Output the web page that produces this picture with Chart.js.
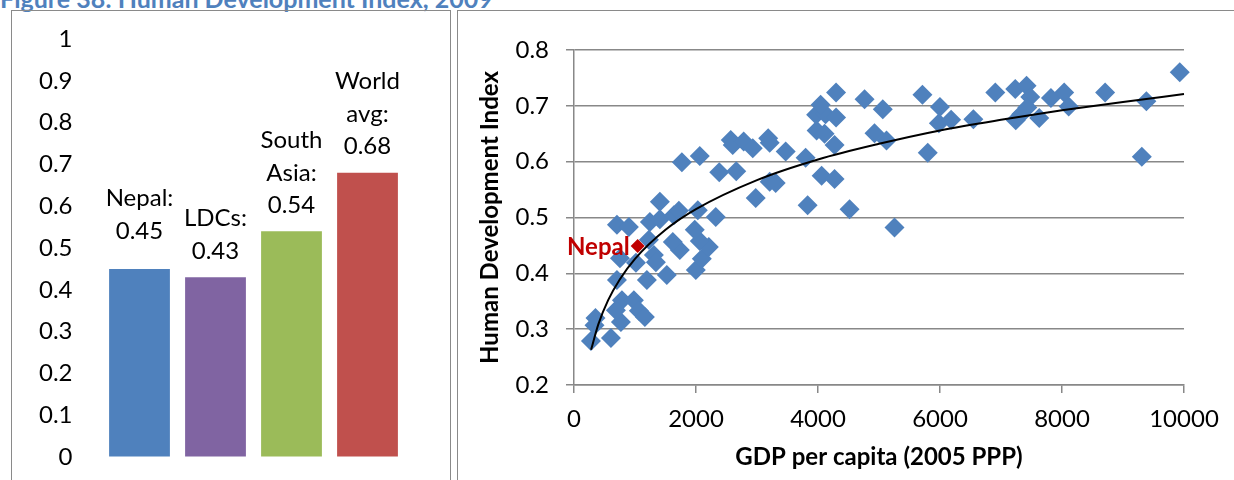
<!DOCTYPE html>
<html><head><meta charset="utf-8">
<script src="https://cdn.jsdelivr.net/npm/chart.js@4/dist/chart.umd.min.js"></script>
<style>
html,body{margin:0;padding:0;background:#fff;overflow:hidden;width:1234px;height:480px;}
#title{position:absolute;left:0;top:-14px;font:bold 25px Lato;color:#4f81bd;white-space:nowrap;line-height:1;}
.panel{position:absolute;border:1px solid #8a8a8a;box-sizing:border-box;}
#p1{left:11px;top:10px;width:440px;height:490px;}
#p2{left:457px;top:10px;width:800px;height:490px;}
canvas{position:absolute;}
</style></head><body>
<div id="title">Figure 38: Human Development Index, 2009</div>
<div class="panel" id="p1"></div>
<div class="panel" id="p2"></div>
<canvas id="c1" width="437" height="469" style="left:12px;top:11px"></canvas>
<canvas id="c2" width="776" height="469" style="left:458px;top:11px"></canvas>
<script>
// ---- Bar chart data ----
const barCategories = [["Nepal:"], ["LDCs:"], ["South", "Asia:"], ["World", "avg:"]];
const barValues = [0.45, 0.43, 0.54, 0.68];
const barColors = ["#4f81bd", "#8064a2", "#9bbb59", "#c0504d"];
const barTickLabels = ["0", "0.1", "0.2", "0.3", "0.4", "0.5", "0.6", "0.7", "0.8", "0.9", "1"];

// ---- Scatter data (GDP per capita 2005 PPP, HDI) ----
const countryGDP = [278, 606, 352, 336, 704, 786, 982, 1064, 1162, 769, 687, 1195, 1522, 1997, 2095, 753, 1015, 1309, 1735, 2210,
  1342, 2062, 1620, 1228, 1980, 704, 900, 1244, 1408, 1637, 1408, 1719, 2030, 2324, 1768, 2062, 2381, 2660, 2570, 2602,
  2782, 2930, 2979, 3183, 3208, 3470, 3797, 3208, 3306, 3830, 4059, 4272, 3977, 4108, 4272, 3969, 4124, 4296, 4043, 4296,
  4763, 5062, 4926, 5123, 4517, 5254, 5712, 5999, 5982, 6182, 5799, 6547, 6907, 7234, 7419, 7480, 7431, 7332, 7242, 7627,
  7819, 8036, 8110, 8707, 9383, 9308, 9930];
const countryHDI = [0.279, 0.284, 0.320, 0.307, 0.388, 0.352, 0.352, 0.333, 0.322, 0.313, 0.334, 0.388, 0.397, 0.406, 0.426, 0.427, 0.419, 0.433, 0.442, 0.447,
  0.420, 0.458, 0.456, 0.460, 0.478, 0.487, 0.483, 0.492, 0.497, 0.504, 0.528, 0.512, 0.513, 0.501, 0.599, 0.610, 0.581, 0.583, 0.639, 0.630,
  0.636, 0.624, 0.535, 0.642, 0.634, 0.618, 0.607, 0.564, 0.562, 0.522, 0.575, 0.569, 0.656, 0.650, 0.630, 0.684, 0.685, 0.679, 0.702, 0.724,
  0.712, 0.694, 0.651, 0.638, 0.515, 0.482, 0.720, 0.698, 0.669, 0.675, 0.616, 0.676, 0.724, 0.730, 0.736, 0.716, 0.697, 0.685, 0.674, 0.678,
  0.714, 0.724, 0.699, 0.724, 0.708, 0.609, 0.760];
const nepalGDP = [1044];
const nepalHDI = [0.449];
const nepalLabel = "Nepal";
const trendGDP = [280, 400, 560, 750, 1000, 1500, 2000, 3000, 4000, 5000, 6000, 7000, 8000, 9000, 10000];
const trendHDI = [0.263, 0.309, 0.352, 0.389, 0.426, 0.478, 0.515, 0.567, 0.604, 0.632, 0.656, 0.675, 0.692, 0.707, 0.721];
const xTickLabels = ["0", "2000", "4000", "6000", "8000", "10000"];
const yTickLabels = ["0.2", "0.3", "0.4", "0.5", "0.6", "0.7", "0.8"];
const xTitle = "GDP per capita (2005 PPP)";
const yTitle = "Human Development Index";

const FONT = "Lato";

const barLabelPlugin = {
  id: "barLabels",
  afterDatasetsDraw(chart, args, opts) {
    const ctx = chart.ctx;
    const meta = chart.getDatasetMeta(0);
    ctx.save();
    ctx.font = "24px " + FONT;
    ctx.fillStyle = "#000";
    ctx.textAlign = "center";
    ctx.textBaseline = "middle";
    meta.data.forEach((bar, i) => {
      const lines = barCategories[i].concat([barValues[i].toFixed(2)]);
      const lift = opts.lift[i];
      lines.forEach((t, j) => {
        ctx.fillText(t, bar.x, bar.y - opts.gap - lift - (lines.length - 1 - j) * opts.lineH);
      });
    });
    ctx.restore();
  }
};

new Chart(document.getElementById("c1"), {
  type: "bar",
  data: {
    labels: barCategories.map(c => c.join(" ")),
    datasets: [{ data: barValues, backgroundColor: barColors, barPercentage: 0.8, categoryPercentage: 1 }]
  },
  options: {
    responsive: false, animation: false,
    layout: { padding: { top: 28, right: 43.5, bottom: 23, left: 0 } },
    plugins: { legend: { display: false }, tooltip: { enabled: false },
      barLabels: { gap: 26, lineH: 32.5, lift: [12, 0, 0, 0] } },
    scales: {
      x: { display: false },
      y: {
        min: 0, max: 1,
        afterFit: s => { s.width = 89.5; },
        grid: { display: true, drawOnChartArea: false, drawTicks: true, tickLength: 26, color: "rgba(0,0,0,0)" },
        border: { display: false },
        ticks: { stepSize: 0.1, padding: 3, color: "#000", font: { family: FONT, size: 24 },
          callback: (v, i) => barTickLabels[i] }
      }
    }
  },
  plugins: [barLabelPlugin]
});

const nepalLabelPlugin = {
  id: "nepalLabel",
  afterDatasetsDraw(chart) {
    const ctx = chart.ctx;
    const pt = chart.getDatasetMeta(0).data[0];
    ctx.save();
    ctx.font = "bold 24px " + FONT;
    ctx.fillStyle = "#c00000";
    ctx.textAlign = "right";
    ctx.textBaseline = "middle";
    ctx.fillText(nepalLabel, pt.x - 8, pt.y + 1);
    ctx.restore();
  }
};

const GRID = "#888888";
new Chart(document.getElementById("c2"), {
  type: "scatter",
  data: {
    datasets: [
      { data: nepalGDP.map((x, i) => ({ x, y: nepalHDI[i] })), pointStyle: "rectRot", radius: 7,
        backgroundColor: "#c00000", borderWidth: 0, clip: false },
      { data: trendGDP.map((x, i) => ({ x, y: trendHDI[i] })), showLine: true, pointRadius: 0,
        borderColor: "#000", borderWidth: 2, cubicInterpolationMode: "monotone", clip: false },
      { data: countryGDP.map((x, i) => ({ x, y: countryHDI[i] })), pointStyle: "rectRot", radius: 10,
        backgroundColor: "#4f81bd", borderWidth: 0, clip: false }
    ]
  },
  options: {
    responsive: false, animation: false,
    layout: { padding: { top: 39, right: 50, bottom: 0, left: 0 } },
    plugins: { legend: { display: false }, tooltip: { enabled: false } },
    scales: {
      x: {
        type: "linear", min: 0, max: 10000,
        afterFit: s => { s.height = 95; },
        grid: { drawOnChartArea: false, tickLength: 8, color: GRID, lineWidth: 1.5 },
        border: { color: GRID, width: 1.5 },
        ticks: { stepSize: 2000, padding: 12, color: "#000", font: { family: FONT, size: 24 },
          callback: (v, i) => xTickLabels[i] },
        title: { display: true, text: xTitle, color: "#000", font: { family: FONT, size: 24, weight: "bold" },
          padding: { top: 0, bottom: 8 } }
      },
      y: {
        min: 0.2, max: 0.8,
        afterFit: s => { s.width = 116; },
        grid: { tickLength: 8, color: GRID, lineWidth: 1.5 },
        border: { color: GRID, width: 1.5 },
        ticks: { stepSize: 0.1, padding: 17, color: "#000", font: { family: FONT, size: 24 },
          callback: (v, i) => yTickLabels[i] },
        title: { display: true, text: yTitle, color: "#000", font: { family: FONT, size: 24, weight: "bold" },
          padding: { top: 18, bottom: 0 } }
      }
    }
  },
  plugins: [nepalLabelPlugin]
});
</script>
</body></html>
